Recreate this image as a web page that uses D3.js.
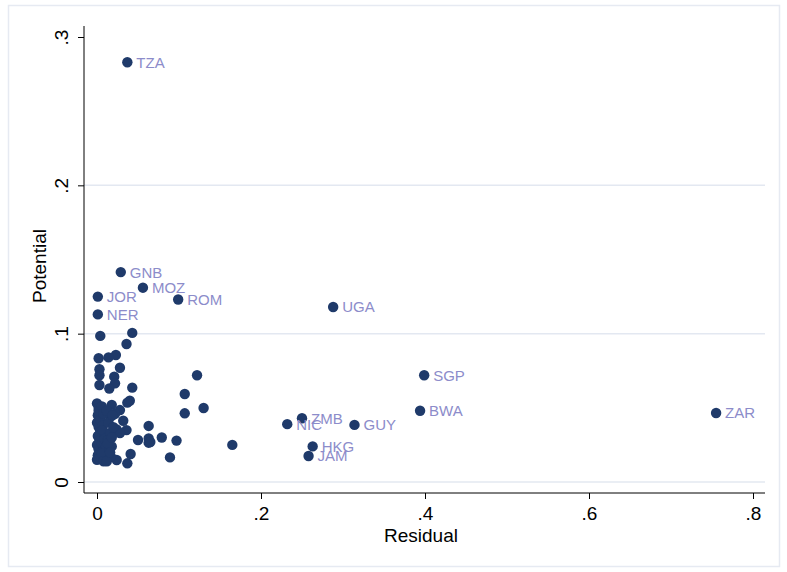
<!DOCTYPE html>
<html><head><meta charset="utf-8">
<script src="https://cdn.jsdelivr.net/npm/d3@7"></script>
<style>body{margin:0;background:#fff;} text{font-family:"Liberation Sans",Arial,sans-serif;}</style>
</head><body><svg id="c" width="787" height="572"></svg>
<script>
// Country codes ("" = unlabelled), residual (x) and potential (y)
const codes = ["TZA","GNB","MOZ","ROM","JOR","NER","UGA","SGP","BWA","ZAR","ZMB","NIC","GUY","HKG","JAM",
 "","","","","","","","","","","","","","","","","","","","","","","","","","","","","","","","","","","","",
 "","","","","","","","","","","","","","","","","","","","","","","","","","","","","","","","","","","","",
 "","","","","","","","","","","","","",""];
const residual = [0.037,0.029,0.056,0.099,0.001,0.001,0.288,0.399,0.394,0.755,0.250,0.232,0.314,0.263,0.258,
 0.004,0.043,0.036,0.023,0.014,0.002,0.028,0.003,0.003,0.021,0.022,0.003,0.015,0.043,0.122,0.107,0.130,0.107,
 0.040,0.037,0.063,0.050,0.063,0.063,0.079,0.097,0.089,0.165,0.024,0.041,0.037,0.032,0.028,0.018,0.016,0.022,
 0.036,0.024,0.014,0.018,0.010,0.065,0.022,0.028,
 0.000,0.002,0.004,0.001,0.003,0.000,0.002,0.004,0.001,0.003,0.000,0.002,0.005,0.001,0.003,0.000,0.002,0.004,
 0.006,0.008,0.007,0.009,0.006,0.008,0.010,0.007,0.009,0.011,0.006,0.008,
 0.012,0.014,0.016,0.013,0.015,0.017,0.012,0.019,0.020,0.013,0.016,0.018,0.011,0.015];
const potential = [0.283,0.1415,0.131,0.123,0.125,0.113,0.118,0.072,0.048,0.0465,0.043,0.039,0.0385,0.024,0.0175,
 0.0985,0.1005,0.093,0.0856,0.084,0.0834,0.077,0.076,0.072,0.071,0.0665,0.0654,0.063,0.0636,0.072,0.0593,0.0499,0.0463,
 0.0548,0.0535,0.0378,0.0283,0.0294,0.0265,0.030,0.0279,0.0166,0.025,0.0148,0.0189,0.0126,0.0413,0.0485,0.052,0.044,0.034,
 0.035,0.0355,0.0306,0.024,0.0148,0.027,0.046,0.033,
 0.053,0.050,0.047,0.045,0.043,0.040,0.037,0.034,0.031,0.028,0.025,0.022,0.020,0.018,0.016,0.015,0.048,0.042,
 0.051,0.046,0.038,0.032,0.026,0.021,0.017,0.035,0.029,0.024,0.019,0.014,
 0.048,0.040,0.033,0.028,0.022,0.017,0.014,0.045,0.037,0.026,0.020,0.030,0.050,0.015];
const xTicks = [0,0.2,0.4,0.6,0.8];
const xTickLabels = ["0",".2",".4",".6",".8"];
const yTicks = [0,0.1,0.2,0.3];
const yTickLabels = ["0",".1",".2",".3"];
const xTitle = "Residual", yTitle = "Potential";

const svg = d3.select("#c");
svg.append("rect").attr("x",8.5).attr("y",5.5).attr("width",771).attr("height",561)
  .attr("fill","#fff").attr("stroke","#e6eaf2").attr("stroke-width",1.5);

const L=84,R=765,T=26,B=493;
const x = d3.scaleLinear().domain([0,0.8]).range([97,753]);
const y = d3.scaleLinear().domain([0,0.3]).range([482,37]);

// gridlines
svg.append("g").selectAll("line").data(yTicks.filter(d=>d<0.3)).join("line")
  .attr("x1",L).attr("x2",R).attr("y1",d=>y(d)).attr("y2",d=>y(d))
  .attr("stroke","#e3e8f1").attr("stroke-width",1.5);

// axes
const xAxis = d3.axisBottom(x).tickValues(xTicks).tickFormat((d,i)=>xTickLabels[i]).tickSize(6).tickSizeOuter(0);
const gx = svg.append("g").attr("transform",`translate(0,${B})`).call(xAxis);
gx.select(".domain").attr("d",`M${L},0H${R}`).attr("stroke","#000");
gx.selectAll(".tick line").attr("stroke","#000");
gx.selectAll(".tick text").attr("font-size",19).attr("fill","#000").attr("dy","0.93em")
  .attr("font-family","Liberation Sans, Arial, sans-serif");

const yAxis = d3.axisLeft(y).tickValues(yTicks).tickFormat((d,i)=>yTickLabels[i]).tickSize(6).tickSizeOuter(0);
const gy = svg.append("g").attr("transform",`translate(${L},0)`).call(yAxis);
gy.select(".domain").attr("d",`M0,${T}V${B}`).attr("stroke","#000");
gy.selectAll(".tick line").attr("stroke","#000");
gy.selectAll(".tick text").attr("font-size",19).attr("fill","#000")
  .attr("font-family","Liberation Sans, Arial, sans-serif")
  .attr("x",0).attr("dy",0).attr("text-anchor","middle")
  .attr("transform","translate(-16,0) rotate(-90)");

svg.append("text").attr("x",421).attr("y",542).attr("text-anchor","middle")
  .attr("font-size",19).text(xTitle);
svg.append("text").attr("transform",`translate(46,266) rotate(-90)`).attr("text-anchor","middle")
  .attr("font-size",19).text(yTitle);

const pts = codes.map((c,i)=>({c, x:residual[i], y:potential[i]}));
svg.append("g").selectAll("circle").data(pts).join("circle")
  .attr("cx",d=>x(d.x)).attr("cy",d=>y(d.y)).attr("r",5.2).attr("fill","#1f3a6a");
svg.append("g").selectAll("text").data(pts.filter(d=>d.c)).join("text")
  .attr("x",d=>x(d.x)+9).attr("y",d=>y(d.y)).attr("dy","0.36em")
  .attr("font-size",15).attr("fill","#8c8cca").text(d=>d.c);
</script></body></html>
